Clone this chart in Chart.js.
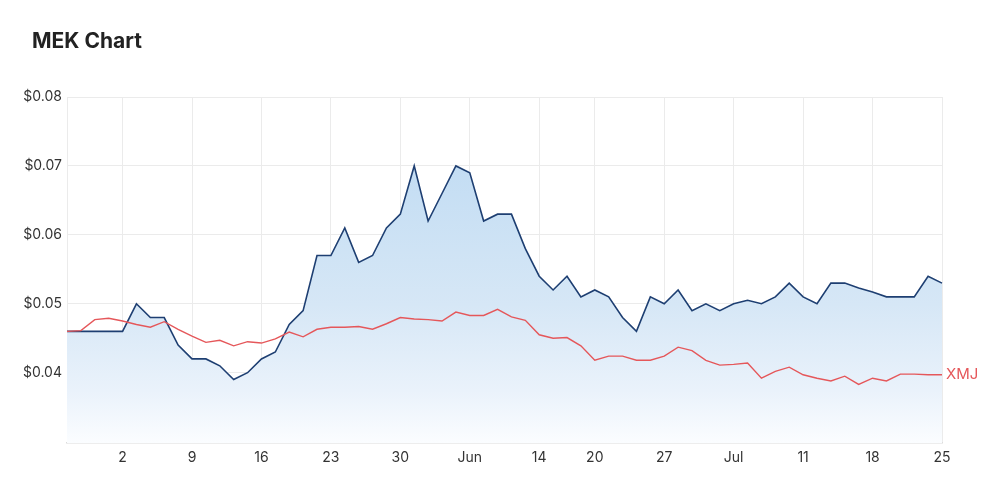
<!DOCTYPE html>
<html>
<head>
<meta charset="utf-8">
<script src="https://cdn.jsdelivr.net/npm/chart.js@4.4.1/dist/chart.umd.min.js"></script>
<style>
  html, body { margin: 0; padding: 0; background: #fff; }
  #wrap { position: relative; width: 1000px; height: 500px; }
  #title { position: absolute; left: 32px; top: 30px; font: bold 21px Inter, sans-serif; line-height: 21px; color: #222; }
  #myChart { position: absolute; left: 0; top: 0; }
</style>
</head>
<body>
<div id="wrap">
  <canvas id="myChart" width="1000" height="500"></canvas>
  <div id="title">MEK Chart</div>
</div>
<script>
// ASX trading days, 26 Apr - 25 Jul 2022
const tradingDays = [
  '2022-04-26','2022-04-27','2022-04-28','2022-04-29',
  '2022-05-02','2022-05-03','2022-05-04','2022-05-05','2022-05-06',
  '2022-05-09','2022-05-10','2022-05-11','2022-05-12','2022-05-13',
  '2022-05-16','2022-05-17','2022-05-18','2022-05-19','2022-05-20',
  '2022-05-23','2022-05-24','2022-05-25','2022-05-26','2022-05-27',
  '2022-05-30','2022-05-31','2022-06-01','2022-06-02','2022-06-03',
  '2022-06-06','2022-06-07','2022-06-08','2022-06-09','2022-06-10',
  '2022-06-14','2022-06-15','2022-06-16','2022-06-17',
  '2022-06-20','2022-06-21','2022-06-22','2022-06-23','2022-06-24',
  '2022-06-27','2022-06-28','2022-06-29','2022-06-30','2022-07-01',
  '2022-07-04','2022-07-05','2022-07-06','2022-07-07','2022-07-08',
  '2022-07-11','2022-07-12','2022-07-13','2022-07-14','2022-07-15',
  '2022-07-18','2022-07-19','2022-07-20','2022-07-21','2022-07-22',
  '2022-07-25'
];

const mekPrice = [
  0.046, 0.046, 0.046, 0.046,
  0.046, 0.050, 0.048, 0.048, 0.044,
  0.042, 0.042, 0.041, 0.039, 0.040,
  0.042, 0.043, 0.047, 0.049, 0.057,
  0.057, 0.061, 0.056, 0.057, 0.061,
  0.063, 0.070, 0.062, 0.066, 0.070,
  0.069, 0.062, 0.063, 0.063, 0.058,
  0.054, 0.052, 0.054, 0.051,
  0.052, 0.051, 0.048, 0.046, 0.051,
  0.050, 0.052, 0.049, 0.050, 0.049,
  0.050, 0.0505, 0.050, 0.051, 0.053,
  0.051, 0.050, 0.053, 0.053, 0.0523,
  0.0517, 0.051, 0.051, 0.051, 0.054,
  0.053
];

// XMJ index, rebased to MEK
const xmjRebased = [
  0.0460, 0.0461, 0.0477, 0.0479,
  0.0475, 0.0470, 0.0466, 0.0474, 0.0463,
  0.0453, 0.0444, 0.0447, 0.0439, 0.0445,
  0.0443, 0.0449, 0.0459, 0.0452, 0.0463,
  0.0466, 0.0466, 0.0467, 0.0463, 0.0471,
  0.0480, 0.0478, 0.0477, 0.0475, 0.0488,
  0.0483, 0.0483, 0.0492, 0.0481, 0.0476,
  0.0455, 0.0450, 0.0451, 0.0439,
  0.0418, 0.0424, 0.0424, 0.0418, 0.0418,
  0.0424, 0.0437, 0.0432, 0.0418, 0.0411,
  0.0412, 0.0414, 0.0392, 0.0402, 0.0408,
  0.0397, 0.0392, 0.0388, 0.0395, 0.0383,
  0.0392, 0.0388, 0.0398, 0.0398, 0.0397,
  0.0397
];

const tickDates = ['2022-05-02','2022-05-09','2022-05-16','2022-05-23','2022-05-30','2022-06-06',
                   '2022-06-14','2022-06-20','2022-06-27','2022-07-04','2022-07-11','2022-07-18','2022-07-25'];
const tickLabels = ['2','9','16','23','30','Jun','14','20','27','Jul','11','18','25'];
const yTicks = [0.04, 0.05, 0.06, 0.07, 0.08];

const gridColor = '#ebebeb';

const seriesLabel = {
  id: 'seriesLabel',
  afterDatasetsDraw(chart) {
    const meta = chart.getDatasetMeta(1);
    const last = meta.data[meta.data.length - 1];
    const c = chart.ctx;
    c.save();
    c.fillStyle = '#e5575a';
    c.font = '15px Inter, sans-serif';
    c.textBaseline = 'middle';
    c.fillText('XMJ', last.x + 4, last.y);
    c.restore();
  }
};

const ctx = document.getElementById('myChart').getContext('2d');

const mekChart = new Chart(ctx, {
  type: 'line',
  data: {
    labels: tradingDays,
    datasets: [{
      label: 'MEK',
      data: mekPrice,
      order: 2,
      borderColor: '#1e3f72',
      borderWidth: 1.6,
      pointRadius: 0,
      tension: 0,
      fill: 'start',
      backgroundColor: (c) => {
        const area = c.chart.chartArea;
        if (!area) return 'rgba(190,218,243,0.8)';
        const g = c.chart.ctx.createLinearGradient(0, area.top, 0, area.bottom);
        g.addColorStop(0, 'rgb(186,216,242)');
        g.addColorStop(0.6, 'rgb(214,231,246)');
        g.addColorStop(0.85, 'rgb(234,242,251)');
        g.addColorStop(1, 'rgb(251,253,255)');
        return g;
      }
    }, {
      label: 'XMJ',
      data: xmjRebased,
      order: 1,
      borderColor: '#e5575a',
      borderWidth: 1.4,
      pointRadius: 0,
      tension: 0,
      fill: false
    }]
  },
  options: {
    responsive: false,
    animation: false,
    layout: { padding: { top: 97, right: 58, left: 0, bottom: 0 } },
    plugins: {
      legend: { display: false },
      tooltip: { enabled: false }
    },
    scales: {
      x: {
        type: 'category',
        offset: false,
        afterFit: (s) => { s.height = 57; },
        border: { display: true, color: '#dcdcdc', width: 1.5 },
        grid: {
          drawTicks: false,
          color: (c) => (c.index === 0 || tickDates.includes(tradingDays[c.index])) ? gridColor : 'rgba(0,0,0,0)'
        },
        ticks: {
          autoSkip: false,
          maxRotation: 0,
          padding: 6,
          color: '#333',
          font: { family: 'Inter', size: 14 },
          callback: (v, i) => {
            const k = tickDates.indexOf(tradingDays[i]);
            return k >= 0 ? tickLabels[k] : '';
          }
        }
      },
      y: {
        min: 0.0298,
        max: 0.08,
        afterFit: (s) => { s.width = 67; },
        afterBuildTicks: (s) => { s.ticks = yTicks.map(v => ({ value: v })); },
        border: { display: true, color: gridColor },
        grid: { drawTicks: false, color: gridColor },
        ticks: {
          padding: 5,
          color: '#333',
          font: { family: 'Inter', size: 14 },
          callback: (v) => '$' + Number(v).toFixed(2)
        }
      }
    }
  },
  plugins: [seriesLabel]
});
</script>
</body>
</html>
